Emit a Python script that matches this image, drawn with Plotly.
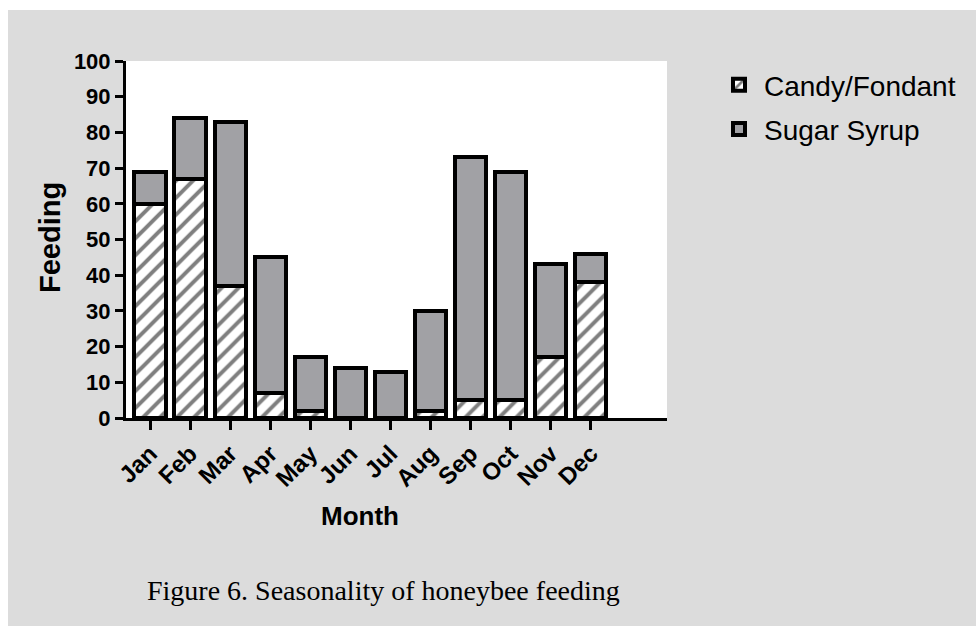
import plotly.graph_objects as go

months = ["Jan", "Feb", "Mar", "Apr", "May", "Jun", "Jul", "Aug", "Sep", "Oct", "Nov", "Dec"]
candy = [60, 67, 37, 7, 2, 0, 0, 2, 5, 5, 17, 38]
syrup = [9, 17, 46, 38, 15, 14, 13, 28, 68, 64, 26, 8]
y_ticks = list(range(0, 101, 10))

OFFX, OFFY = 8, 10  # white page margin left/top
W, H = 976 - OFFX, 626 - OFFY
L, T = 126 - OFFX, 61 - OFFY
pw, ph = 541, 357
R, B = W - L - pw, H - T - ph

def px(x):  # page pixel -> paper
    return (x - OFFX - L) / pw

def py(y):
    return (T + ph - (y - OFFY)) / ph

fig = go.Figure()
fig.add_trace(go.Bar(
    x=months, y=candy, name="Candy/Fondant", legendgroup="a",
    marker=dict(color="white", line=dict(color="black", width=4),
                pattern=dict(shape="/", fgcolor="black", bgcolor="white",
                             size=12, solidity=0.33)),
))
fig.add_trace(go.Bar(
    x=months, y=syrup, name="Sugar Syrup", legendgroup="b",
    marker=dict(color="#A1A1A5", line=dict(color="black", width=4)),
))

gray = "#DCDCDC"
fig.update_layout(
    width=W, height=H,
    margin=dict(l=L, r=R, t=T, b=B, autoexpand=False),
    barmode="stack", bargap=0.22,
    paper_bgcolor=gray, plot_bgcolor="white",
    showlegend=True,
    legend=dict(x=px(714), y=py(60), xanchor="left", yanchor="top",
                traceorder="grouped", bgcolor="rgba(0,0,0,0)",
                font=dict(family="Liberation Sans", size=28, color="black"),
                itemwidth=40, tracegroupgap=5),
    font=dict(family="Liberation Sans", color="black"),
    xaxis=dict(
        range=[-0.6, 12.9], showgrid=False, zeroline=False, automargin=False,
        showline=True, linecolor="black", linewidth=3,
        ticks="outside", ticklen=9, tickwidth=3, tickcolor="black",
        tickangle=-45,
        tickfont=dict(family="Liberation Sans", size=24, weight="bold", color="black"),
    ),
    yaxis=dict(
        range=[0, 100], showgrid=False, zeroline=False, automargin=False,
        showline=True, linecolor="black", linewidth=3,
        ticks="outside", ticklen=8, tickwidth=3, tickcolor="black",
        tickvals=y_ticks, ticktext=[str(v) for v in y_ticks],
        tickfont=dict(family="Liberation Sans", size=22, weight="bold", color="black"),
    ),
    annotations=[
        dict(text="<b>Month</b>", x=px(360), y=py(516), xref="paper", yref="paper",
             xanchor="center", yanchor="middle",
             showarrow=False, font=dict(family="Liberation Sans", size=26, color="black")),
        dict(text="<b>Feeding</b>", x=px(50), y=py(238), xref="paper", yref="paper",
             xanchor="center", yanchor="middle",
             showarrow=False, textangle=-90,
             font=dict(family="Liberation Sans", size=29, color="black")),
        dict(text="Figure 6. Seasonality of honeybee feeding", x=px(383), y=py(590),
             xref="paper", yref="paper", showarrow=False,
             xanchor="center", yanchor="middle",
             font=dict(family="Liberation Serif", size=28, color="black")),
    ],
)

fig.write_html(
    "out.html",
    post_script="document.body.style.margin='10px 0 0 8px';document.body.style.overflow='hidden';",
)
